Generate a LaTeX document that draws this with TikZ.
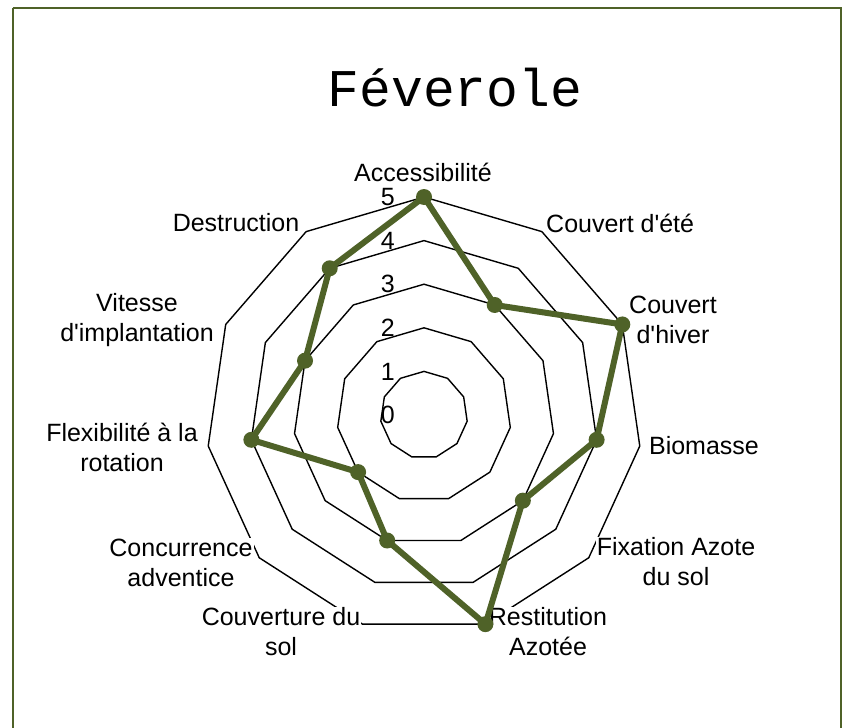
\documentclass[tikz,border=0pt]{standalone}
\usepackage{fontspec}
\newfontfamily\labfont{Liberation Sans}
\newfontfamily\titlefont{Liberation Mono}
\definecolor{olive}{RGB}{79,98,40}
\begin{document}
\begin{tikzpicture}[x=1pt,y=-1pt,
  gridline/.style={draw=black,line width=1.4pt,line join=miter},
  serie/.style={draw=olive,line width=6pt,line join=round},
  marker/.style={circle,fill=olive,inner sep=0pt,minimum size=16pt},
  axlabel/.style={font=\labfont\fontsize{25}{30}\selectfont,align=center,fill=white,inner sep=1pt},
  ticklabel/.style={font=\labfont\fontsize{25}{30}\selectfont,anchor=east,inner sep=1pt},
  frame/.style={draw=olive,line width=2pt}]
\useasboundingbox (0,0) rectangle (846,728);
\fill[white] (0,0) rectangle (846,728);
\draw[frame] (12.5,7.5) -- (840.5,7.5) -- (840.5,740) (12.5,7.5) -- (12.5,740);
\node[font=\titlefont\fontsize{53}{60}\selectfont] (title) at (455,88) {Féverole};
\def\u{43.6}
\begin{scope}[shift={(424,415)},yscale=-1]
  \coordinate (C) at (0,0);
  \foreach \k in {1,...,5}{
    \draw[gridline] (90:\k*\u) \foreach \i in {1,...,10}{ -- ({90-\i*360/11}:\k*\u)} -- cycle;
  }
\end{scope}
% axis labels
\node[axlabel] (acc) at (423,172) {Accessibilité};
\node[axlabel,anchor=west] (ete) at (545,223) {Couvert d'été};
\node[axlabel] (hiver) at (673,320) {Couvert\\d'hiver};
\node[axlabel] (bio) at (704,446) {Biomasse};
\node[axlabel] (fix) at (676,562) {Fixation Azote\\du sol};
\node[axlabel] (rest) at (548,632) {Restitution\\Azotée};
\node[axlabel] (couv) at (281,632) {Couverture du\\sol};
\node[axlabel] (conc) at (181,563) {Concurrence\\adventice};
\node[axlabel] (flex) at (122,447) {Flexibilité à la\\rotation};
\node[axlabel] (vit) at (137,320) {Vitesse\\d'implantation};
\node[axlabel] (dest) at (236,223) {Destruction};
% tick labels
\foreach \k in {0,...,5}{
  \node[ticklabel] (t\k) at (396,{415-\k*\u}) {\k};
}
% data series
\begin{scope}[shift={(424,415)},yscale=-1]
  \foreach \v [count=\i from 0] in {5,3,5,4,3,5,3,2,4,3,4}{
    \coordinate (p\i) at ({90-\i*360/11}:\v*\u);
  }
  \draw[serie] (p0) -- (p1) -- (p2) -- (p3) -- (p4) -- (p5) -- (p6) -- (p7) -- (p8) -- (p9) -- (p10) -- cycle;
  \foreach \i in {0,...,10}{
    \node[marker] (m\i) at (p\i) {};
  }
\end{scope}
\end{tikzpicture}
\end{document}
